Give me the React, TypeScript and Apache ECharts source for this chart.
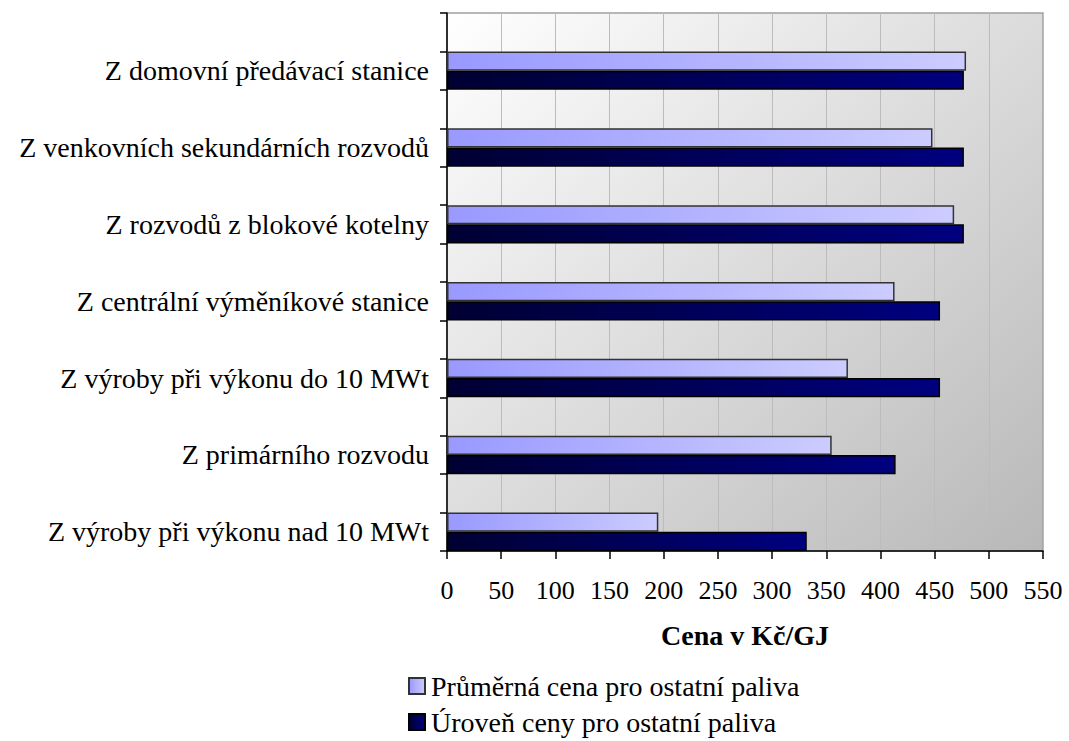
import React, { useEffect, useRef } from "react";
import * as echarts from "echarts";

// Categories, top to bottom
const categories = [
  "Z domovní předávací stanice",
  "Z venkovních sekundárních rozvodů",
  "Z rozvodů z blokové kotelny",
  "Z centrální výměníkové stanice",
  "Z výroby při výkonu do 10 MWt",
  "Z primárního rozvodu",
  "Z výroby při výkonu nad 10 MWt",
];
const prumernaCena = [479, 448, 468, 413, 370, 355, 195];
const urovenCeny = [477, 477, 477, 455, 455, 414, 332];
const seriesNames = ["Průměrná cena pro ostatní paliva", "Úroveň ceny pro ostatní paliva"];
const axisName = "Cena v Kč/GJ";
const xMin = 0;
const xMax = 550;
const xStep = 50;

// Excel layout: every category is preceded by an empty slot
const slots: string[] = [];
const isBlank: boolean[] = [];
categories.forEach((c, i) => {
  slots.push("__blank" + i);
  isBlank.push(true);
  slots.push(c);
  isBlank.push(false);
});
const toSlots = (vals: number[]) => {
  const out: (number | string)[] = [];
  vals.forEach((v) => {
    out.push("-");
    out.push(v);
  });
  return out;
};

const FONT = "Liberation Serif";

export default function App() {
  const ref = useRef<HTMLDivElement>(null);
  useEffect(() => {
    if (!ref.current) return;
    const chart = echarts.init(ref.current, null, { renderer: "svg" });
    const lightGrad = new echarts.graphic.LinearGradient(0, 0, 1, 0, [
      { offset: 0, color: "#9999ff" },
      { offset: 1, color: "#ccccff" },
    ]);
    const darkGrad = new echarts.graphic.LinearGradient(0, 0, 1, 0, [
      { offset: 0, color: "#000033" },
      { offset: 1, color: "#000080" },
    ]);
    const legendCommon = {
      orient: "horizontal",
      left: 403,
      itemWidth: 16,
      itemHeight: 16,
      icon: "rect",
      selectedMode: false,
      textStyle: { fontFamily: FONT, fontSize: 28, color: "#000", padding: [0, 0, 0, 1] },
    };
    chart.setOption({
      animation: false,
      backgroundColor: "#ffffff",
      textStyle: { fontFamily: FONT, color: "#000" },
      grid: {
        left: 447,
        right: 26,
        top: 13,
        bottom: 190,
        show: true,
        borderColor: "#a0a0a0",
        borderWidth: 1.5,
        backgroundColor: new echarts.graphic.LinearGradient(0, 0, 1, 1, [
          { offset: 0, color: "#ffffff" },
          { offset: 1, color: "#b8b8b8" },
        ]),
      },
      legend: [
        { ...legendCommon, top: 667, data: [seriesNames[0]] },
        { ...legendCommon, top: 703, data: [seriesNames[1]] },
      ],
      xAxis: {
        type: "value",
        min: xMin,
        max: xMax,
        interval: xStep,
        name: axisName,
        nameLocation: "middle",
        nameGap: 70,
        nameTextStyle: { fontFamily: FONT, fontSize: 28, fontWeight: "bold", color: "#000" },
        axisLine: { show: true, lineStyle: { color: "#000", width: 1.5 } },
        axisTick: { show: true, length: 8, lineStyle: { color: "#000", width: 1.5 } },
        axisLabel: { fontFamily: FONT, fontSize: 26, color: "#000", margin: 26 },
        splitLine: { show: true, lineStyle: { color: "#bcbcbc", width: 1 } },
      },
      yAxis: {
        type: "category",
        inverse: true,
        data: slots,
        axisLine: { show: true, lineStyle: { color: "#000", width: 1.5 } },
        axisTick: { show: true, length: 7, lineStyle: { color: "#000", width: 1.5 } },
        axisLabel: {
          interval: 0,
          fontFamily: FONT,
          fontSize: 28,
          color: "#000",
          margin: 18,
          formatter: (v: string, i: number) => (isBlank[i] ? "" : v),
        },
        splitLine: { show: false },
      },
      series: [
        {
          name: seriesNames[0],
          type: "bar",
          data: toSlots(prumernaCena),
          barGap: "0%",
          barCategoryGap: "0%",
          itemStyle: { color: lightGrad, borderColor: "#333333", borderWidth: 1.5 },
        },
        {
          name: seriesNames[1],
          type: "bar",
          data: toSlots(urovenCeny),
          barGap: "0%",
          barCategoryGap: "0%",
          itemStyle: { color: darkGrad, borderColor: "#000000", borderWidth: 1.5 },
        },
      ],
    });
    return () => chart.dispose();
  }, []);
  return (
    <div
      ref={ref}
      style={{ position: "fixed", left: 0, top: 0, width: 1069, height: 741 }}
    />
  );
}
